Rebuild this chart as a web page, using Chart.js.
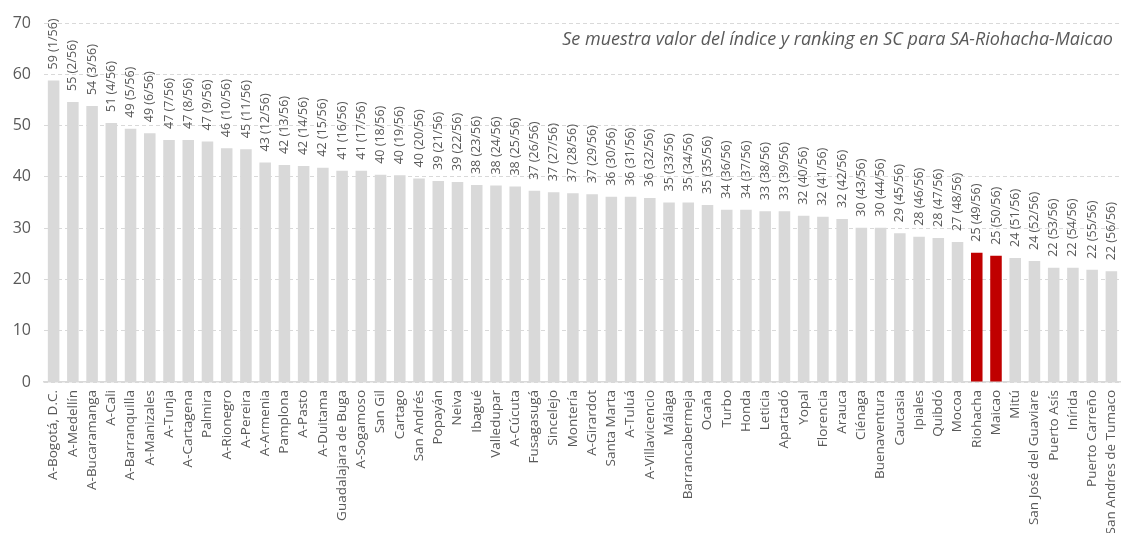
<!DOCTYPE html>
<html>
<head>
<meta charset="utf-8">
<script src="https://cdn.jsdelivr.net/npm/chart.js@4/dist/chart.umd.min.js"></script>
<style>
html,body{margin:0;padding:0;background:#fff;overflow:hidden;}
#wrap{width:1121px;height:533px;position:relative;}
</style>
</head>
<body>
<div id="wrap"><canvas id="c" width="1121" height="533"></canvas></div>
<script>
const categories = ["A-Bogotá, D.C.","A-Medellín","A-Bucaramanga","A-Cali","A-Barranquilla","A-Manizales","A-Tunja","A-Cartagena","Palmira","A-Rionegro","A-Pereira","A-Armenia","Pamplona","A-Pasto","A-Duitama","Guadalajara de Buga","A-Sogamoso","San Gil","Cartago","San Andrés","Popayán","Neiva","Ibagué","Valledupar","A-Cúcuta","Fusagasugá","Sincelejo","Montería","A-Girardot","Santa Marta","A-Tuluá","A-Villavicencio","Málaga","Barrancabermeja","Ocaña","Turbo","Honda","Leticia","Apartadó","Yopal","Florencia","Arauca","Ciénaga","Buenaventura","Caucasia","Ipiales","Quibdó","Mocoa","Riohacha","Maicao","Mitú","San José del Guaviare","Puerto Asís","Inírida","Puerto Carreño","San Andres de Tumaco"];
const values = [58.8,54.6,53.8,50.5,49.4,48.5,47.2,47.2,46.9,45.6,45.4,42.8,42.3,42.1,41.8,41.2,41.2,40.4,40.3,39.7,39.2,39.0,38.4,38.3,38.1,37.3,37.0,36.8,36.6,36.1,36.1,35.9,35.0,35.0,34.5,33.6,33.6,33.3,33.3,32.4,32.2,31.8,30.1,30.1,29.0,28.3,28.1,27.3,25.2,24.6,24.2,23.6,22.3,22.3,21.9,21.6];
const barLabels = ["59 (1/56)","55 (2/56)","54 (3/56)","51 (4/56)","49 (5/56)","49 (6/56)","47 (7/56)","47 (8/56)","47 (9/56)","46 (10/56)","45 (11/56)","43 (12/56)","42 (13/56)","42 (14/56)","42 (15/56)","41 (16/56)","41 (17/56)","40 (18/56)","40 (19/56)","40 (20/56)","39 (21/56)","39 (22/56)","38 (23/56)","38 (24/56)","38 (25/56)","37 (26/56)","37 (27/56)","37 (28/56)","37 (29/56)","36 (30/56)","36 (31/56)","36 (32/56)","35 (33/56)","35 (34/56)","35 (35/56)","34 (36/56)","34 (37/56)","33 (38/56)","33 (39/56)","32 (40/56)","32 (41/56)","32 (42/56)","30 (43/56)","30 (44/56)","29 (45/56)","28 (46/56)","28 (47/56)","27 (48/56)","25 (49/56)","25 (50/56)","24 (51/56)","24 (52/56)","22 (53/56)","22 (54/56)","22 (55/56)","22 (56/56)"];
const highlighted = ["Riohacha","Maicao"];
const yTicks = [0,10,20,30,40,50,60,70];
const titleText = "Se muestra valor del índice y ranking en SC para SA-Riohacha-Maicao";

const GREY = "#d9d9d9", RED = "#c00000", TXT = "#595959";
const FONT = "'Open Sans', sans-serif";

const barLabelPlugin = {
  id: 'barLabels',
  afterDatasetsDraw(chart) {
    const ctx = chart.ctx;
    const meta = chart.getDatasetMeta(0);
    ctx.save();
    ctx.fillStyle = TXT;
    ctx.font = "12.5px " + FONT;
    ctx.textAlign = 'left';
    ctx.textBaseline = 'middle';
    meta.data.forEach((bar, i) => {
      ctx.save();
      ctx.translate(bar.x, bar.y - 11);
      ctx.rotate(-Math.PI / 2);
      ctx.fillText(barLabels[i], 0, 0);
      ctx.restore();
    });
    ctx.restore();
  }
};

const titlePlugin = {
  id: 'noteTitle',
  afterDraw(chart) {
    const ctx = chart.ctx;
    ctx.save();
    ctx.fillStyle = TXT;
    ctx.font = "italic 18px " + FONT;
    ctx.textAlign = 'right';
    ctx.textBaseline = 'alphabetic';
    ctx.fillText(titleText, 1113, 45);
    ctx.restore();
  }
};

new Chart(document.getElementById('c'), {
  type: 'bar',
  data: {
    labels: categories,
    datasets: [{
      data: values,
      backgroundColor: categories.map(c => highlighted.includes(c) ? RED : GREY),
      categoryPercentage: 1,
      barPercentage: 0.6
    }]
  },
  options: {
    responsive: false,
    animation: false,
    layout: { padding: { top: 23, right: 0, left: 0, bottom: 0 } },
    plugins: { legend: { display: false }, tooltip: { enabled: false } },
    scales: {
      x: {
        grid: { display: false, drawTicks: false },
        border: { display: true, color: GREY, width: 1.5 },
        ticks: {
          autoSkip: false, maxRotation: 90, minRotation: 90,
          padding: 8, color: TXT, font: { family: FONT, size: 13.5 }
        },
        afterFit(scale) { scale.height = 151; scale.paddingLeft = 0; scale.paddingRight = 0; }
      },
      y: {
        min: 0, max: 70,
        afterBuildTicks(scale) { scale.ticks = yTicks.map(v => ({ value: v })); },
        grid: { color: GREY, lineWidth: 1, drawTicks: false },
        border: { display: false, dash: [4, 3] },
        ticks: { color: TXT, font: { family: FONT, size: 16 }, padding: 13 },
        afterFit(scale) { scale.width = 44; }
      }
    }
  },
  plugins: [barLabelPlugin, titlePlugin]
});
</script>
</body>
</html>
